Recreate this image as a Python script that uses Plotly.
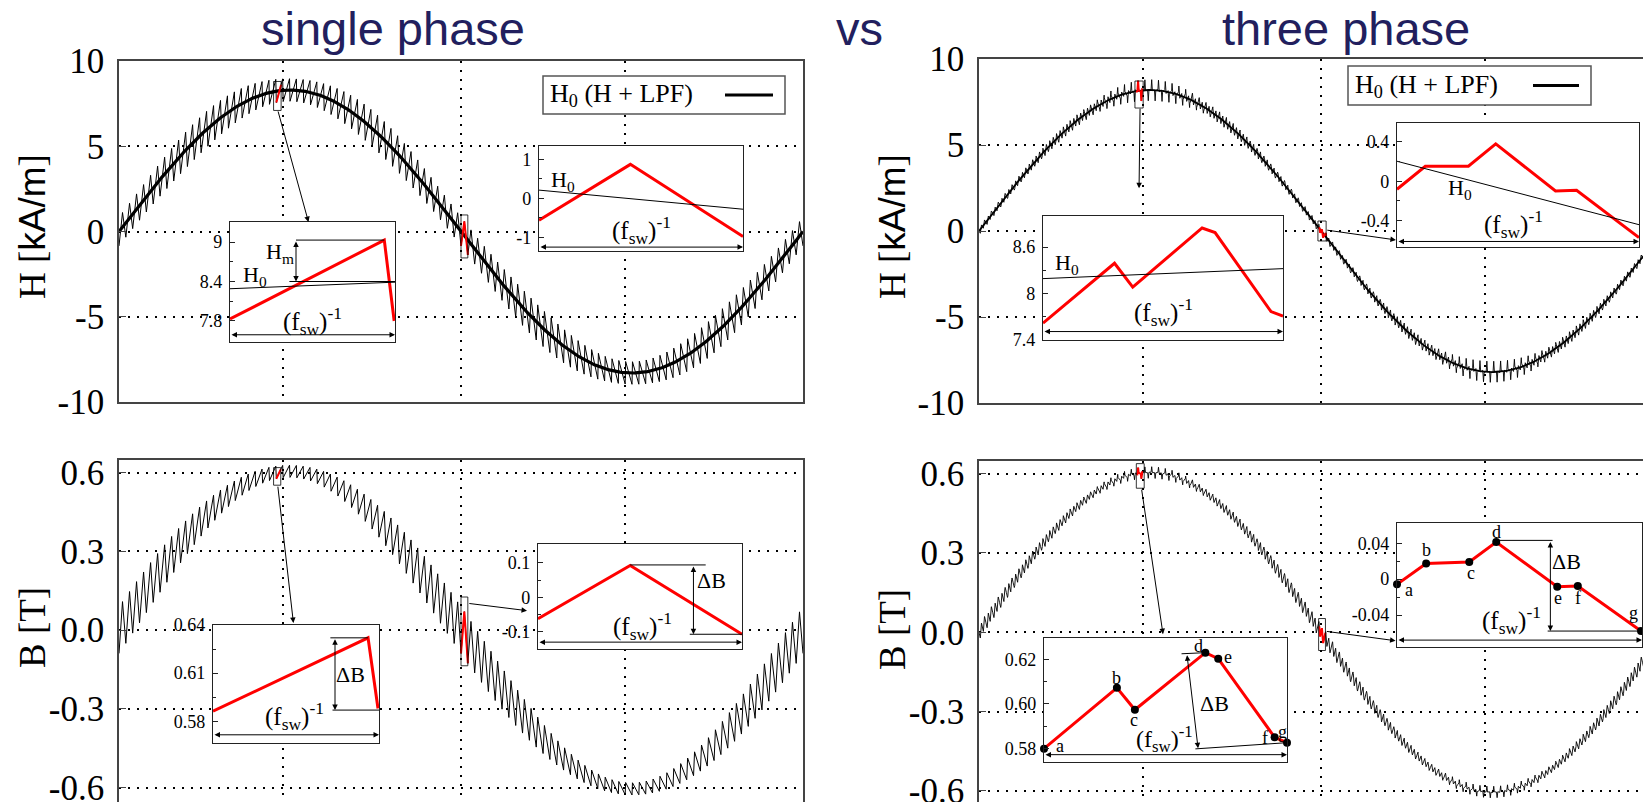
import numpy as np
import plotly.graph_objects as go

W, H = 1651, 802
OFF = 8                     # the page body margin shifts the figure by 8 px
SERIF = "Liberation Serif"
SANS = "Liberation Sans"

# ---------------- data ----------------
PERIOD_MS = 20.0            # fundamental period [ms]
N_SW = 100                  # switching periods per fundamental period
T_SW = PERIOD_MS / N_SW

# single phase
H1_AMP = 8.3                # H0 amplitude [kA/m]
B1_AMP = 0.605              # B amplitude [T]
B1_RIPPLE_PP = 0.178        # B ripple p-p at zero crossing [T]
D1_SWING = 0.43             # duty-cycle swing of the sawtooth
H1_GAIN_ZERO = 9.5          # H ripple / B ripple near B = 0
H1_GAIN_PEAK = 19.0         # extra H/B ripple gain at the peak

# three phase
H3_AMP = 8.2
B3_AMP = 0.605
M3 = 0.45                   # modulation index
RIPPLE3_GAIN = 4.0          # visible ripple scale
H3_GAIN_ZERO = 8.0
H3_GAIN_PEAK = 20.0

GRID_T = [4.8, 10, 14.8]
H_TICKS = [-10, -5, 0, 5, 10]
H_TICKTEXT = ["-10", "-5", "0", "5", "10"]
B_TICKS = [-0.6, -0.3, 0.0, 0.3, 0.6]
B_TICKTEXT = ["-0.6", "-0.3", "0.0", "0.3", "0.6"]

# inset A : single phase, H at peak
A_X = [0, 0.935, 0.995]
A_Y = [7.83, 9.03, 7.80]
A_H0_X = [0, 1]
A_H0_Y = [8.29, 8.39]
# inset B : single phase, H at zero crossing
B_X = [0, 0.448, 1.0]
B_Y = [-0.56, 0.87, -0.98]
B_H0_X = [0, 1]
B_H0_Y = [0.21, -0.28]
# inset C : three phase, H at peak
C_X = [0, 0.298, 0.374, 0.663, 0.717, 0.950, 1.0]
C_Y = [7.61, 8.39, 8.08, 8.85, 8.79, 7.76, 7.70]
C_H0_X = [0, 1]
C_H0_Y = [8.19, 8.32]
# inset D : three phase, H at zero crossing
D_X = [0, 0.117, 0.295, 0.408, 0.655, 0.742, 1.0]
D_Y = [-0.081, 0.152, 0.152, 0.378, -0.098, -0.091, -0.57]
D_H0_X = [0, 1]
D_H0_Y = [0.2025, -0.44]
# inset E : single phase, B at peak
E_X = [0, 0.934, 0.994]
E_Y = [0.5863, 0.632, 0.588]
# inset F : single phase, B at zero crossing
F_X = [0, 0.452, 1.0]
F_Y = [-0.0626, 0.0924, -0.108]
# inset G : three phase, B at peak
G_X = [0, 0.300, 0.374, 0.664, 0.717, 0.949, 1.0]
G_Y = [0.5798, 0.6072, 0.5973, 0.6230, 0.6203, 0.5849, 0.5825]
# inset H : three phase, B at zero crossing
HH_X = [0, 0.119, 0.295, 0.405, 0.654, 0.738, 0.996]
HH_Y = [-0.0058, 0.0176, 0.0191, 0.0414, -0.0084, -0.0077, -0.0579]
POINT_LABELS = ["a", "b", "c", "d", "e", "f", "g"]


# ---------------- waveforms ----------------
def single_phase_wave():
    ts, bs, hs = [], [], []
    for k in range(N_SW):
        t0 = k * T_SW
        thc = 2 * np.pi * (t0 + T_SW / 2) / PERIOD_MS
        d = 0.5 + D1_SWING * np.sin(thc)
        ppb = B1_RIPPLE_PP * 4 * d * (1 - d)
        pph = ppb * (H1_GAIN_ZERO + H1_GAIN_PEAK * np.sin(thc) ** 2)
        for tt, sg in ((t0, -1), (t0 + d * T_SW, 1)):
            th = 2 * np.pi * tt / PERIOD_MS
            ts.append(tt)
            bs.append(B1_AMP * np.sin(th) + sg * ppb / 2)
            hs.append(H1_AMP * np.sin(th) + sg * pph / 2)
    ts.append(PERIOD_MS); bs.append(bs[0]); hs.append(hs[0])
    return np.array(ts), np.array(bs), np.array(hs)


def three_phase_wave():
    vs = 4 * np.pi * B3_AMP / (M3 * PERIOD_MS)
    ts, bs = [0.0], [0.0]
    b = 0.0
    for k in range(N_SW):
        t0 = k * T_SW
        th = 2 * np.pi * (t0 + T_SW / 2) / PERIOD_MS
        m = [M3 * np.cos(th), M3 * np.cos(th - 2 * np.pi / 3), M3 * np.cos(th + 2 * np.pi / 3)]
        dd = [(1 + x) / 2 for x in m]
        inst = sorted([0.0, 1.0] + [x / 2 for x in dd] + [1 - x / 2 for x in dd])
        for s0, s1 in zip(inst[:-1], inst[1:]):
            if s1 - s0 < 1e-9:
                continue
            sm = (s0 + s1) / 2
            S = [1 if (sm < x / 2 or sm > 1 - x / 2) else 0 for x in dd]
            v = (2 * S[0] - S[1] - S[2]) / 3
            b += vs * v * (s1 - s0) * T_SW
            ts.append(t0 + s1 * T_SW)
            bs.append(b)
    ts = np.array(ts)
    th = 2 * np.pi * ts / PERIOD_MS
    rip = np.array(bs) - B3_AMP * np.sin(th)
    rip = (rip - rip.mean()) * RIPPLE3_GAIN
    bw = B3_AMP * np.sin(th) + rip
    hw = H3_AMP * np.sin(th) + rip * (H3_GAIN_ZERO + H3_GAIN_PEAK * np.sin(th) ** 2)
    return ts, bw, hw


t1, b1, h1 = single_phase_wave()
t3, b3, h3 = three_phase_wave()
tf = np.linspace(0, PERIOD_MS, 401)


def window(t, y, a, b):
    tt = np.concatenate([[a], t[(t > a) & (t < b)], [b]])
    return tt, np.interp(tt, t, y)


# ---------------- layout helpers (reference pixel -> paper) ----------------
def px(x):
    return min(max((x - OFF) / W, 0.0), 1.0)


def py(y):
    return min(max(1 - (y - OFF) / H, 0.0), 1.0)


def dx(a, b):
    return [px(a), px(b)]


def dy(a, b):
    return [py(b), py(a)]


fig = go.Figure()
layout = dict(
    width=W, height=H, margin=dict(l=0, r=0, t=0, b=0, pad=0, autoexpand=False),
    paper_bgcolor="white", plot_bgcolor="white", showlegend=False,
    font=dict(family=SERIF, color="black"),
)

PXMS = 34.2
FAR_R = W + OFF             # right edge of the figure in reference pixels
FAR_B = H + OFF
LEFT_END = (803 - 119) / PXMS
RIGHT_END = (FAR_R - 979) / PXMS
BL_BOTTOM = -(FAR_B - 630.4) / 262.0
BR_BOTTOM = -(FAR_B - 632.7) / 263.7
MAIN = {
    1: dict(x=(119, 803), y=(61, 402), xr=[0, LEFT_END], yr=[-10, 10], yt=H_TICKS, ytt=H_TICKTEXT, mirror=True),
    2: dict(x=(979, FAR_R), y=(59, 403), xr=[0, RIGHT_END], yr=[-10, 10], yt=H_TICKS, ytt=H_TICKTEXT, mirror=False),
    3: dict(x=(119, 803), y=(460, FAR_B), xr=[0, LEFT_END], yr=[BL_BOTTOM, 0.648], yt=B_TICKS, ytt=B_TICKTEXT, mirror=True),
    4: dict(x=(979, FAR_R), y=(461, FAR_B), xr=[0, RIGHT_END], yr=[BR_BOTTOM, 0.648], yt=B_TICKS, ytt=B_TICKTEXT, mirror=False),
}
for i, p in MAIN.items():
    s = "" if i == 1 else str(i)
    layout["xaxis" + s] = dict(
        domain=dx(*p["x"]), range=p["xr"], anchor="y" + s, showline=True, mirror=True,
        linecolor="#444", linewidth=1.5, showgrid=True, gridcolor="black", gridwidth=1.6,
        griddash="2px,7px", tickvals=GRID_T, showticklabels=False, ticks="", zeroline=False,
        automargin=False, fixedrange=True)
    layout["yaxis" + s] = dict(
        domain=dy(*p["y"]), range=p["yr"], anchor="x" + s, showline=True, mirror=p["mirror"],
        linecolor="#444", linewidth=1.5, showgrid=True, gridcolor="black", gridwidth=1.6,
        griddash="2px,7px", tickvals=p["yt"], ticktext=p["ytt"], ticks="inside", ticklen=7,
        tickcolor="#444", tickfont=dict(family=SERIF, size=35, color="black"),
        ticklabelstandoff=6, ticklabeloverflow="allow", zeroline=False, automargin=False,
        fixedrange=True)

INSETS = {
    5: dict(box=(230, 395, 222, 342), yr=[7.48, 9.305], yt=[7.8, 8.4, 9], ytt=["7.8", "8.4", "9"], minor=[8.1, 8.7]),
    6: dict(box=(539, 743, 146, 251), yr=[-1.35, 1.34], yt=[-1, 0, 1], ytt=["-1", "0", "1"], minor=[-0.5, 0.5]),
    7: dict(box=(1043, 1283, 216, 340), yr=[7.39, 9.006], yt=[7.4, 8, 8.6], ytt=["7.4", "8", "8.6"], minor=[7.7, 8.3]),
    8: dict(box=(1397, 1639, 123, 247), yr=[-0.666, 0.59], yt=[-0.4, 0, 0.4], ytt=["-0.4", "0", "0.4"], minor=[-0.2, 0.2]),
    9: dict(box=(213, 379, 625, 743), yr=[0.5665, 0.6400], yt=[0.58, 0.61, 0.64], ytt=["0.58", "0.61", "0.64"], minor=[0.595, 0.625]),
    10: dict(box=(538, 742, 544, 649), yr=[-0.151, 0.155], yt=[-0.1, 0, 0.1], ytt=["-0.1", "0", "0.1"], minor=[-0.05, 0.05]),
    11: dict(box=(1044, 1287, 638, 762), yr=[0.5738, 0.6296], yt=[0.58, 0.60, 0.62], ytt=["0.58", "0.60", "0.62"], minor=[0.59, 0.61]),
    12: dict(box=(1397, 1642, 523, 647), yr=[-0.0757, 0.0627], yt=[-0.04, 0, 0.04], ytt=["-0.04", "0", "0.04"], minor=[-0.02, 0.02]),
}
for i, p in INSETS.items():
    x0, x1, y0, y1 = p["box"]
    layout[f"xaxis{i}"] = dict(
        domain=dx(x0, x1), range=[0, 1], anchor=f"y{i}", showline=True, mirror=True,
        linecolor="#222", linewidth=1.2, showgrid=False, zeroline=False,
        showticklabels=False, ticks="", automargin=False, fixedrange=True)
    layout[f"yaxis{i}"] = dict(
        domain=dy(y0, y1), range=p["yr"], anchor=f"x{i}", showline=True, mirror=True,
        linecolor="#222", linewidth=1.2, showgrid=False, zeroline=False,
        tickvals=p["yt"], ticktext=p["ytt"], ticks="inside", ticklen=5, tickcolor="#222",
        tickfont=dict(family=SERIF, size=18, color="black"), ticklabelstandoff=3,
        ticklabeloverflow="allow",
        minor=dict(tickvals=p["minor"], ticks="inside", ticklen=3, tickcolor="#222"),
        automargin=False, fixedrange=True)

# ---------------- main traces ----------------
def line(x, y, xa, ya, color="black", width=1.0):
    fig.add_trace(go.Scatter(x=x, y=y, mode="lines", xaxis=xa, yaxis=ya,
                             line=dict(color=color, width=width), hoverinfo="skip"))


# top-left: single phase H
line(t1, h1, "x", "y", width=1.0)
line(tf, H1_AMP * np.sin(2 * np.pi * tf / PERIOD_MS), "x", "y", width=3.2)
# top-right: three phase H
line(t3, h3, "x2", "y2", width=0.9)
line(tf, H3_AMP * np.sin(2 * np.pi * tf / PERIOD_MS), "x2", "y2", width=1.8)
# bottom-left: single phase B
line(t1, b1, "x3", "y3", width=1.0)
# bottom-right: three phase B
line(t3, b3, "x4", "y4", width=0.9)

RED_WINDOWS = [
    (t1, h1, "x", "y", 4.6, 4.74), (t1, h1, "x", "y", 10.0, 10.2),
    (t3, h3, "x2", "y2", 4.6, 4.8), (t3, h3, "x2", "y2", 9.95, 10.15),
    (t1, b1, "x3", "y3", 4.6, 4.73), (t1, b1, "x3", "y3", 10.0, 10.2),
    (t3, b3, "x4", "y4", 4.6, 4.8), (t3, b3, "x4", "y4", 9.95, 10.13),
]
for t, y, xa, ya, a, b in RED_WINDOWS:
    xx, yy = window(t, y, a, b)
    line(xx, yy, xa, ya, color="red", width=2)

# ---------------- inset traces ----------------
RED = "#ff0000"
for i, xs, ys in [(5, A_X, A_Y), (6, B_X, B_Y), (7, C_X, C_Y), (8, D_X, D_Y),
                  (9, E_X, E_Y), (10, F_X, F_Y), (11, G_X, G_Y), (12, HH_X, HH_Y)]:
    line(xs, ys, f"x{i}", f"y{i}", color=RED, width=3)
for i, xs, ys in [(5, A_H0_X, A_H0_Y), (6, B_H0_X, B_H0_Y), (7, C_H0_X, C_H0_Y), (8, D_H0_X, D_H0_Y)]:
    line(xs, ys, f"x{i}", f"y{i}", color="black", width=1)
for i, xs, ys in [(11, G_X, G_Y), (12, HH_X, HH_Y)]:
    fig.add_trace(go.Scatter(x=xs, y=ys, mode="markers", xaxis=f"x{i}", yaxis=f"y{i}",
                             marker=dict(color="black", size=8), cliponaxis=False, hoverinfo="skip"))

shapes = []
ann = []


def seg(i, x0, y0, x1, y1, width=1, color="black"):
    s = "" if i == 1 else str(i)
    shapes.append(dict(type="line", xref="x" + s, yref="y" + s, x0=x0, y0=y0, x1=x1, y1=y1,
                       line=dict(color=color, width=width)))


def arrow(i, x0, y0, x1, y1, both=False, width=1):
    s = "" if i == 1 else str(i)
    ann.append(dict(xref="x" + s, yref="y" + s, axref="x" + s, ayref="y" + s,
                    x=x1, y=y1, ax=x0, ay=y0, text="", showarrow=True, arrowhead=2,
                    arrowsize=1.1, arrowwidth=width, arrowcolor="black",
                    arrowside="end+start" if both else "end", standoff=0, startstandoff=0))


def label(i, x, y, text, size=20, xanchor="center", yanchor="middle"):
    s = "" if i == 1 else str(i)
    ann.append(dict(xref="x" + s, yref="y" + s, x=x, y=y, text=text, showarrow=False,
                    font=dict(family=SERIF, size=size, color="black"),
                    xanchor=xanchor, yanchor=yanchor))


# rectangles marking the zoomed windows
RECTS = [
    (1, 4.52, 4.74, 7.1, 8.8), (1, 10.0, 10.2, -1.55, 0.97),
    (2, 4.56, 4.8, 7.15, 8.72), (2, 9.91, 10.15, -0.58, 0.58),
    (3, 4.52, 4.73, 0.552, 0.619), (3, 10.0, 10.2, -0.136, 0.126),
    (4, 4.6, 4.83, 0.545, 0.638), (4, 9.93, 10.13, -0.069, 0.052),
]
for i, xa, xb, ya, yb in RECTS:
    s = "" if i == 1 else str(i)
    shapes.append(dict(type="rect", xref="x" + s, yref="y" + s, x0=xa, x1=xb, y0=ya, y1=yb,
                       line=dict(color="black", width=0.8), fillcolor="rgba(0,0,0,0)"))

# connecting arrows (main -> inset)
arrow(1, 4.64, 7.13, 5.54, 0.56)
arrow(2, 4.71, 7.2, 4.68, 2.48)
arrow(2, 10.14, 0.06, 12.19, -0.52)
arrow(3, 4.64, 0.552, 5.1, 0.027)
arrow(3, 10.2, 0.102, 11.93, 0.074)
arrow(4, 4.75, 0.545, 5.38, -0.007)
arrow(4, 10.13, 0.004, 12.18, -0.032)

FSW = "(f<sub>sw</sub>)<sup>-1</sup>"
H0 = "H<sub>0</sub>"
DB = "ΔB"

# inset A
seg(5, 0.40, 9.03, 0.935, 9.03)
seg(5, 0.36, 8.40, 1.0, 8.40)
arrow(5, 0.40, 9.03, 0.40, 8.40, both=True)
label(5, 0.30, 8.84, "H<sub>m</sub>", 22)
label(5, 0.15, 8.49, H0, 22)
label(5, 0.50, 7.80, FSW, 25)
arrow(5, 0.0, 7.59, 1.0, 7.59, both=True)
# inset B
label(6, 0.12, 0.45, H0, 22)
label(6, 0.50, -0.82, FSW, 25)
arrow(6, 0.0, -1.25, 1.0, -1.25, both=True)
# inset C
label(7, 0.10, 8.38, H0, 22)
label(7, 0.50, 7.76, FSW, 25)
arrow(7, 0.0, 7.50, 1.0, 7.50, both=True)
# inset D
label(8, 0.26, -0.08, H0, 22)
label(8, 0.48, -0.43, FSW, 25)
arrow(8, 0.0, -0.61, 1.0, -0.61, both=True)
# inset E
seg(9, 0.707, 0.632, 0.934, 0.632)
seg(9, 0.72, 0.587, 1.0, 0.587)
arrow(9, 0.735, 0.632, 0.735, 0.587, both=True)
label(9, 0.83, 0.609, DB, 22)
label(9, 0.49, 0.5835, FSW, 25)
arrow(9, 0.0, 0.5716, 1.0, 0.5716, both=True)
# inset F
seg(10, 0.452, 0.094, 0.822, 0.094)
seg(10, 0.744, -0.108, 1.0, -0.108)
arrow(10, 0.762, 0.094, 0.762, -0.108, both=True)
label(10, 0.85, 0.05, DB, 22)
label(10, 0.51, -0.085, FSW, 25)
arrow(10, 0.0, -0.131, 1.0, -0.131, both=True)
# inset G
seg(11, 0.566, 0.6225, 0.664, 0.6230)
seg(11, 0.623, 0.5797, 1.0, 0.5825)
arrow(11, 0.588, 0.6225, 0.634, 0.5800, both=True)
label(11, 0.70, 0.6003, DB, 22)
label(11, 0.495, 0.5840, FSW, 24)
arrow(11, 0.0, 0.5771, 1.0, 0.5771, both=True)
G_LBL = [(0.064, 0.5812), (0.300, 0.6115), (0.370, 0.5928), (0.634, 0.6261),
         (0.757, 0.6212), (0.908, 0.5845), (0.981, 0.5872)]
for (x, y), t in zip(G_LBL, POINT_LABELS):
    label(11, x, y, t, 18)
# inset H
seg(12, 0.405, 0.0433, 0.635, 0.0433)
seg(12, 0.615, -0.0579, 1.0, -0.0579)
arrow(12, 0.626, 0.0433, 0.626, -0.0579, both=True)
label(12, 0.69, 0.0195, DB, 22)
label(12, 0.466, -0.046, FSW, 25)
arrow(12, 0.0, -0.068, 1.0, -0.068, both=True)
H_LBL = [(0.047, -0.0122), (0.119, 0.0325), (0.300, 0.0065), (0.405, 0.053),
         (0.658, -0.0214), (0.739, -0.0214), (0.964, -0.038)]
for (x, y), t in zip(H_LBL, POINT_LABELS):
    label(12, x, y, t, 18)

# legends
for (bx0, bx1, by0, by1, tx, lx0, lx1) in [(543, 785, 76, 114, 548, 725, 773),
                                            (1348, 1591, 66, 105, 1353, 1533, 1579)]:
    ym = (by0 + by1) / 2
    shapes.append(dict(type="rect", xref="paper", yref="paper", x0=px(bx0), x1=px(bx1),
                       y0=py(by1), y1=py(by0), line=dict(color="#555", width=1.5),
                       fillcolor="white"))
    shapes.append(dict(type="line", xref="paper", yref="paper", x0=px(lx0), x1=px(lx1),
                       y0=py(ym), y1=py(ym), line=dict(color="black", width=3)))
    ann.append(dict(xref="paper", yref="paper", x=px(tx), y=py(ym),
                    text="H<sub>0</sub> (H + LPF)", showarrow=False, xanchor="left",
                    yanchor="middle", font=dict(family=SERIF, size=26, color="black")))

# axis titles
H_TITLE = 'H [<span style="font-family:Liberation Sans">kA/m</span>]'
for x, y, t in [(32, 227, H_TITLE), (892, 227, H_TITLE), (32, 628, "B [T]"), (892, 630, "B [T]")]:
    ann.append(dict(xref="paper", yref="paper", x=px(x), y=py(y), text=t, textangle=-90,
                    showarrow=False, xanchor="center", yanchor="middle",
                    font=dict(family=SERIF, size=37, color="black")))

# headings
NAVY = "#221f5e"
for x, t in [(393, "single phase"), (859, "vs"), (1346, "three phase")]:
    ann.append(dict(xref="paper", yref="paper", x=px(x), y=py(29), text=t, showarrow=False,
                    xanchor="center", yanchor="middle",
                    font=dict(family=SANS, size=47, color=NAVY)))

layout["shapes"] = shapes
layout["annotations"] = ann
fig.update_layout(**layout)
fig.write_html("out.html")
